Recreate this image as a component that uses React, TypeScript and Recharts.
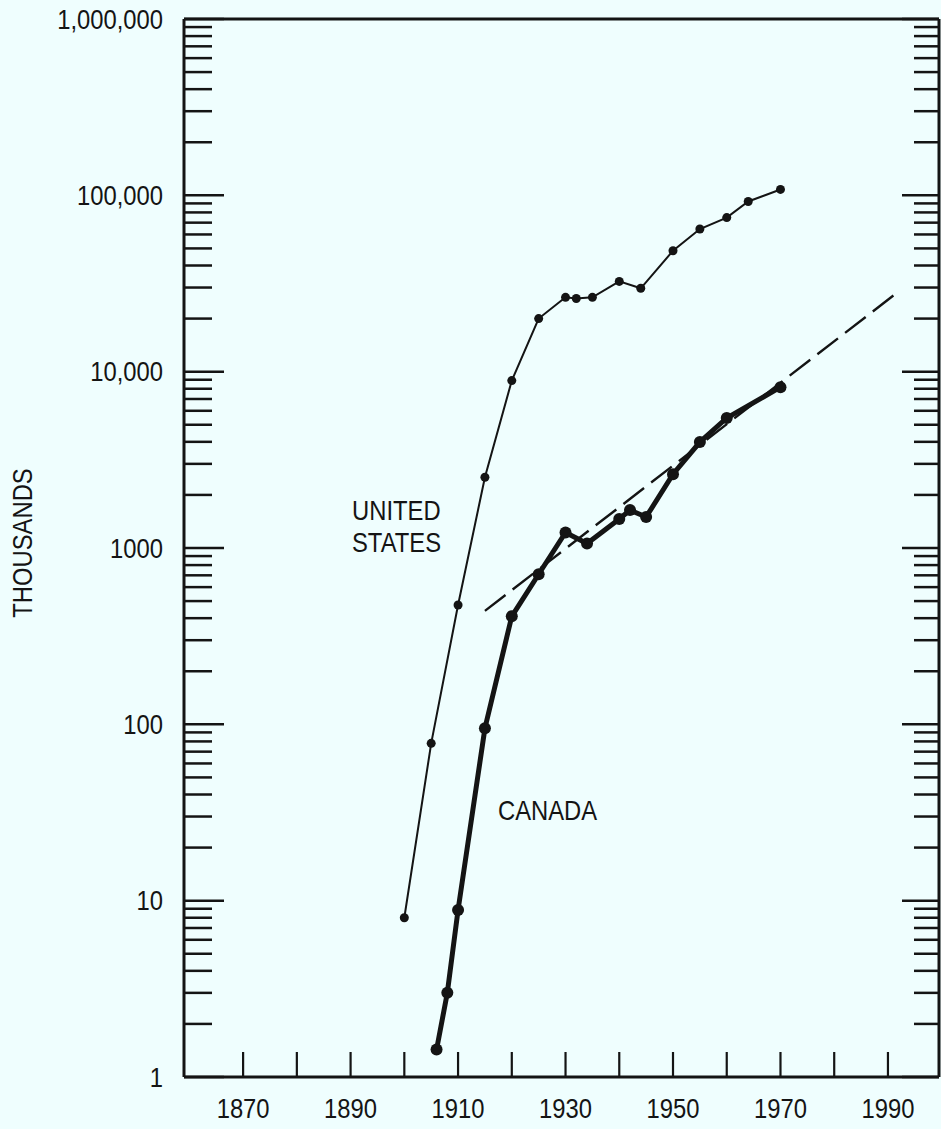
import { Line, LineChart, XAxis, YAxis } from "recharts";

const INK = "#141414";
const BG = "#effefe";
const FONT = "'Liberation Sans', Arial, sans-serif";
const SQUEEZE = 0.85; // condensed look of the original lettering

// registrations, thousands
const usYears = [1900, 1905, 1910, 1915, 1920, 1925, 1930, 1932, 1935, 1940, 1944, 1950, 1955, 1960, 1964, 1970];
const usValues = [8, 78, 475, 2520, 8900, 20000, 26400, 26000, 26400, 32500, 29700, 48500, 64400, 74800, 92300, 108000];

const caYears = [1906, 1908, 1910, 1915, 1920, 1925, 1930, 1934, 1940, 1942, 1945, 1950, 1955, 1960, 1970];
const caValues = [1.43, 3.0, 8.85, 95, 410, 710, 1225, 1060, 1460, 1640, 1500, 2620, 3990, 5460, 8170];

const trendYears = [1915, 1992];
const trendValues = [440, 28500];

const yMajor = [1, 10, 100, 1000, 10000, 100000, 1000000];
const yLabels = ["1", "10", "100", "1000", "10,000", "100,000", "1,000,000"];
const xTicks = [1870, 1880, 1890, 1900, 1910, 1920, 1930, 1940, 1950, 1960, 1970, 1980, 1990];
const xLabels = [1870, 1890, 1910, 1930, 1950, 1970, 1990];

const yTicks: number[] = [];
yMajor.forEach((p, i) => {
  if (i === yMajor.length - 1) { yTicks.push(p); return; }
  for (let m = 1; m < 10; m++) yTicks.push(m * p);
});

const usData = usYears.map((year, i) => ({ year, v: usValues[i] }));
const caData = caYears.map((year, i) => ({ year, v: caValues[i] }));
const trendData = trendYears.map((year, i) => ({ year, v: trendValues[i] }));

function Label({ x, y, anchor, children }: any) {
  return (
    <g transform={`translate(${x},${y}) scale(${SQUEEZE},1)`}>
      <text x={0} y={0} textAnchor={anchor} dominantBaseline="central" fill={INK} fontFamily={FONT} fontSize={28}>
        {children}
      </text>
    </g>
  );
}

function LeftTick({ x, y, payload }: any) {
  const idx = yMajor.indexOf(payload.value);
  const len = idx >= 0 ? 40 : 28;
  return (
    <g>
      <line x1={x} x2={x + len} y1={y} y2={y} stroke={INK} strokeWidth={2.5} />
      {idx >= 0 && <Label x={x - 21} y={y} anchor="end">{yLabels[idx]}</Label>}
    </g>
  );
}

function RightTick({ x, y, payload }: any) {
  const len = yMajor.includes(payload.value) ? 37 : 25;
  return <line x1={x} x2={x - len} y1={y} y2={y} stroke={INK} strokeWidth={2.5} />;
}

function BottomTick({ x, y, payload }: any) {
  const show = xLabels.includes(payload.value);
  return (
    <g>
      <line x1={x} x2={x} y1={y} y2={y - 25} stroke={INK} strokeWidth={2.2} />
      {show && <Label x={x} y={y + 31} anchor="middle">{payload.value}</Label>}
    </g>
  );
}

function TopTick({ x, y }: any) {
  return <line x1={x} x2={x} y1={y} y2={y + 25} stroke={INK} strokeWidth={2.2} />;
}

const axisLine = { stroke: INK, strokeWidth: 3 };

export default function App() {
  const text = {
    position: "absolute" as const, fontFamily: FONT, fontSize: 28, color: INK, lineHeight: "32px",
    transformOrigin: "left top", transform: `scaleX(${SQUEEZE})`, whiteSpace: "nowrap" as const,
  };
  return (
    <div style={{ position: "absolute", left: 0, top: 0, width: 941, height: 1129, background: BG, overflow: "hidden" }}>
      <LineChart width={941} height={1129} margin={{ top: 18, right: 1, bottom: 51, left: 183 }}>
        <XAxis xAxisId="b" type="number" dataKey="year" domain={[1859, 1999.5]} ticks={xTicks} interval={0}
          height={1} tickSize={0} tickMargin={0} axisLine={axisLine} tick={(p: any) => <BottomTick {...p} />} allowDataOverflow />
        <XAxis xAxisId="t" orientation="top" type="number" domain={[1859, 1999.5]} ticks={xTicks} interval={0}
          height={1} tickSize={0} tickMargin={0} axisLine={axisLine} tick={(p: any) => <TopTick {...p} />} allowDataOverflow />
        <YAxis yAxisId="l" type="number" scale="log" domain={[1, 1000000]} ticks={yTicks} interval={0}
          width={1} tickSize={0} tickMargin={0} axisLine={axisLine} tick={(p: any) => <LeftTick {...p} />} allowDataOverflow />
        <YAxis yAxisId="r" orientation="right" type="number" scale="log" domain={[1, 1000000]} ticks={yTicks} interval={0}
          width={1} tickSize={0} tickMargin={0} axisLine={axisLine} tick={(p: any) => <RightTick {...p} />} allowDataOverflow />
        <Line xAxisId="b" yAxisId="l" data={trendData} dataKey="v" type="linear" stroke={INK} strokeWidth={2.4}
          strokeDasharray="26 9" dot={false} activeDot={false} isAnimationActive={false} />
        <Line xAxisId="b" yAxisId="l" data={usData} dataKey="v" type="linear" stroke={INK} strokeWidth={2}
          dot={{ r: 4.5, fill: INK, stroke: INK, strokeWidth: 0 }} activeDot={false} isAnimationActive={false} />
        <Line xAxisId="b" yAxisId="l" data={caData} dataKey="v" type="linear" stroke={INK} strokeWidth={5}
          dot={{ r: 6, fill: INK, stroke: INK, strokeWidth: 0 }} activeDot={false} isAnimationActive={false} />
      </LineChart>
      <div style={{ ...text, left: 352, top: 495 }}>UNITED<br />STATES</div>
      <div style={{ ...text, left: 498, top: 795 }}>CANADA</div>
      <div style={{ ...text, left: 23, top: 543, transformOrigin: "center", transform: `translate(-50%, -50%) rotate(-90deg) scaleX(${SQUEEZE})` }}>
        THOUSANDS
      </div>
    </div>
  );
}
